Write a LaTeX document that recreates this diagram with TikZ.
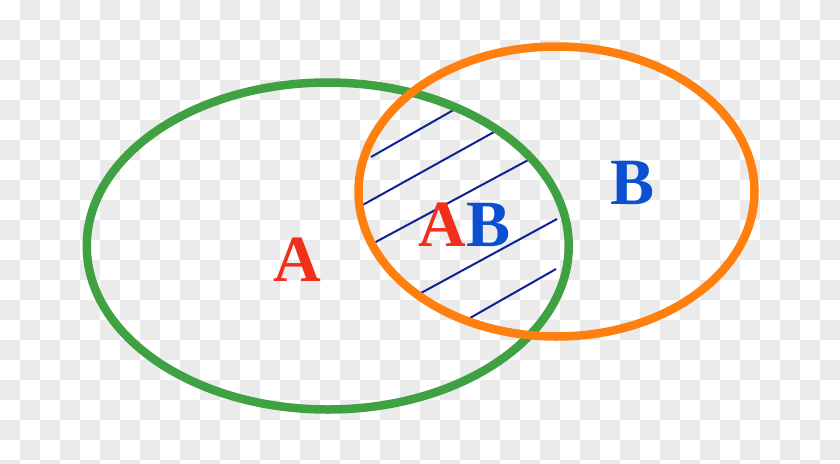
\documentclass[tikz,border=0pt]{standalone}
\usepackage{fontspec}
\setmainfont{Liberation Serif}
\definecolor{chk}{HTML}{EBEBEB}
\definecolor{vgreen}{HTML}{3FA142}
\definecolor{vorange}{HTML}{FF7F0F}
\definecolor{vred}{HTML}{F0301A}
\definecolor{vblue}{HTML}{0B50D0}
\definecolor{hatch}{HTML}{0E2296}
\tikzset{
  setring/.style={line width=8.5pt},
  hatchline/.style={hatch, line width=2pt},
  lbl/.style={inner sep=0pt, font=\fontsize{66}{66}\selectfont\bfseries}
}
\begin{document}
\begin{tikzpicture}[x=1pt,y=-1pt]
\useasboundingbox (0,0) rectangle (840,463);
\fill[white] (0,0) rectangle (840,463);
\begin{scope}
\clip (0,0) rectangle (840,463);
\foreach \i in {0,...,41}{
  \foreach \j in {0,...,23}{
    \pgfmathtruncatemacro{\cpar}{mod(\i+\j,2)}
    \ifnum\cpar=1
      \fill[chk] (\i*20,\j*20) rectangle ++(20,20);
    \fi
  }
}
\end{scope}
% hatch lines
\draw[hatchline] (371,157) -- (457,108);
\draw[hatchline] (359,207) -- (494,132);
\draw[hatchline] (372,244) -- (532,158);
\draw[hatchline] (421,293) -- (557,219);
\draw[hatchline] (470,318) -- (556,269);
% sets
\draw[setring, vgreen] (327.75,246) ellipse [x radius=241, y radius=163.5];
\draw[setring, vorange] (556.5,191.5) ellipse [x radius=198, y radius=145];
% labels
\node[lbl, text=vred] (la) at (297.5,259.5) {A};
\node[lbl, text=vblue] (lb) at (632.5,183) {B};
\node[lbl] (lab) at (464.5,225) {\textcolor{vred}{A}\textcolor{vblue}{B}};
\end{tikzpicture}
\end{document}
